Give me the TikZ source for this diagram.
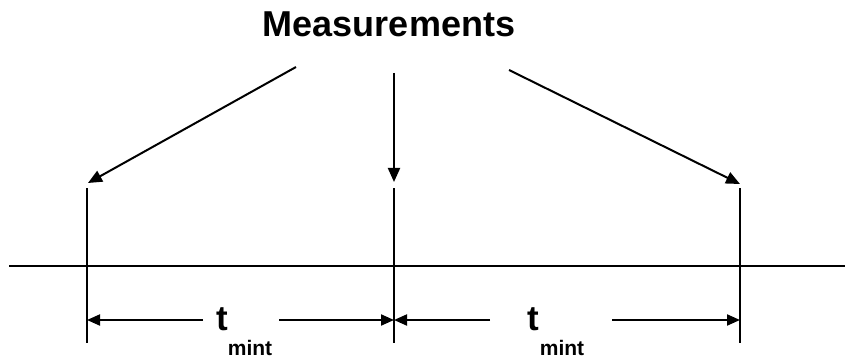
\documentclass[tikz,border=0pt]{standalone}
\usepackage{fontspec}
\setmainfont{Liberation Sans}
\usetikzlibrary{arrows.meta}
\tikzset{
  ln/.style={line width=2pt, black},
  arr/.style={ln, -{Triangle[length=14pt,width=12pt]}},
  dim/.style={ln, -{Triangle[length=13pt,width=11pt]}},
  lbl/.style={inner sep=0pt, anchor=base, font=\bfseries}
}
\begin{document}
\begin{tikzpicture}[x=1pt,y=-1pt]
\useasboundingbox (0,0) rectangle (845,358);
% title
\node[lbl, font=\bfseries\fontsize{36}{40}\selectfont] (title) at (389,37) {Measurements};
% axis
\coordinate (axL) at (9,266);
\coordinate (axR) at (845,266);
\draw[ln] (axL) -- (axR);
% verticals
\coordinate (v1t) at (87,188); \coordinate (v1b) at (87,343);
\coordinate (v2t) at (394,188); \coordinate (v2b) at (394,343);
\coordinate (v3t) at (740,188); \coordinate (v3b) at (740,343);
\draw[ln] (v1t) -- (v1b);
\draw[ln] (v2t) -- (v2b);
\draw[ln] (v3t) -- (v3b);
% measurement arrows
\coordinate (s1) at (296,67); \coordinate (e1) at (88,183);
\coordinate (s2) at (394,73); \coordinate (e2) at (394,182);
\coordinate (s3) at (509,70); \coordinate (e3) at (740,184);
\draw[arr] (s1) -- (e1);
\draw[arr] (s2) -- (e2);
\draw[arr] (s3) -- (e3);
% dimension arrows
\coordinate (d1a) at (203,320); \coordinate (d1l) at (87,320);
\coordinate (d1b) at (279,320); \coordinate (d1r) at (394,320);
\coordinate (d2a) at (490,320); \coordinate (d2l) at (394,320);
\coordinate (d2b) at (612,320); \coordinate (d2r) at (740,320);
\draw[dim] (d1a) -- (d1l);
\draw[dim] (d1b) -- (d1r);
\draw[dim] (d2a) -- (d2l);
\draw[dim] (d2b) -- (d2r);
% labels
\node[lbl, font=\bfseries\fontsize{35}{40}\selectfont] (t1) at (222,330) {t};
\node[lbl, font=\bfseries\fontsize{21}{24}\selectfont] (m1) at (250,355) {mint};
\node[lbl, font=\bfseries\fontsize{35}{40}\selectfont] (t2) at (533,330) {t};
\node[lbl, font=\bfseries\fontsize{21}{24}\selectfont] (m2) at (562,355) {mint};
\end{tikzpicture}
\end{document}
